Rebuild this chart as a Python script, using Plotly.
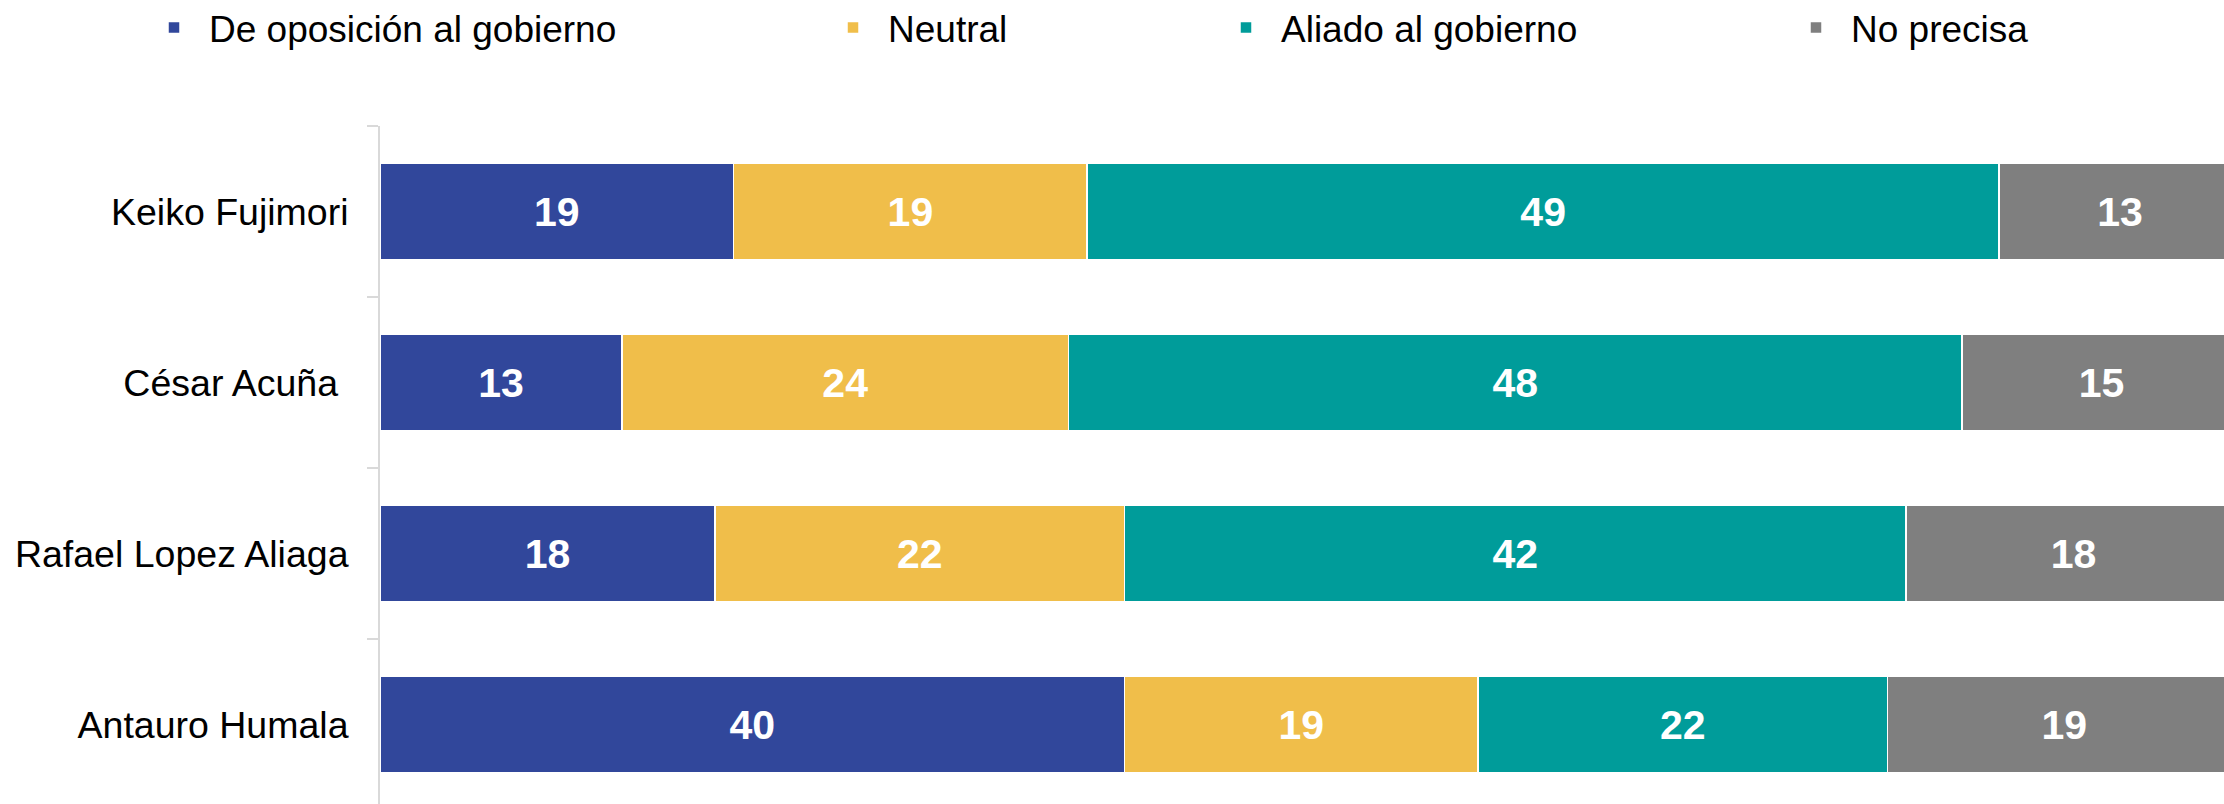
import plotly.graph_objects as go

categories = ["Keiko Fujimori", "César Acuña\u00a0", "Rafael Lopez Aliaga", "Antauro Humala"]
series_names = ["De oposición al gobierno", "Neutral", "Aliado al gobierno", "No precisa"]
oposicion = [19, 13, 18, 40]
neutral = [19, 24, 22, 19]
aliado = [49, 48, 42, 22]
no_precisa = [13, 15, 18, 19]
values = [oposicion, neutral, aliado, no_precisa]
colors = ["#31479B", "#F0BE4A", "#009C9A", "#7F7F7F"]

W, H = 2224, 804
FONT = "Arial, 'Liberation Sans', sans-serif"

# legend text start positions (px) in container
legend_text_x = [211, 890, 1283, 1853]
ITEMW = 60

fig = go.Figure()
for i, (name, vals, col) in enumerate(zip(series_names, values, colors)):
    lg = "legend" if i == 0 else f"legend{i+1}"
    fig.add_trace(go.Bar(
        y=categories, x=vals, name=name, orientation="h",
        marker=dict(color=col, line=dict(color="white", width=1.5)),
        width=0.565,
        texttemplate="%{x}", textposition="inside", insidetextanchor="middle",
        textfont=dict(color="white", size=41, family=FONT, weight="bold"),
        legend=lg, hoverinfo="skip",
    ))

layout_legends = {}
for i, tx in enumerate(legend_text_x):
    key = "legend" if i == 0 else f"legend{i+1}"
    layout_legends[key] = dict(
        orientation="h", xref="container", yref="container",
        x=(tx - ITEMW - 12) / W, xanchor="left",
        y=1 - 28 / H, yanchor="middle",
        itemwidth=ITEMW,
        font=dict(size=37, family=FONT, color="#000000"),
        bgcolor="rgba(0,0,0,0)", borderwidth=0,
    )

fig.update_layout(
    width=W, height=H,
    margin=dict(l=380, r=0, t=126, b=0, pad=0, autoexpand=False),
    barmode="stack",
    plot_bgcolor="white", paper_bgcolor="white",
    font=dict(family=FONT, color="#000000"),
    showlegend=True,
    xaxis=dict(range=[0, (W - 381) / 1860 * 100], visible=False, fixedrange=True, automargin=False),
    yaxis=dict(
        categoryorder="array", categoryarray=categories,
        range=[-0.5 + (H - 126) / 171, -0.5],
        showline=True, linecolor="#D9D9D9", linewidth=2,
        ticks="outside", tickson="boundaries", ticklen=11, tickcolor="#D9D9D9", tickwidth=2,
        ticklabelstandoff=22, automargin=False,
        tickfont=dict(size=37.5, family=FONT, color="#000000"),
        showgrid=False, zeroline=False,
    ),
    **layout_legends,
)

fig.write_html(
    "out.html",
    config={"displayModeBar": False},
    post_script="document.body.style.margin='0';document.body.style.overflow='hidden';",
)
